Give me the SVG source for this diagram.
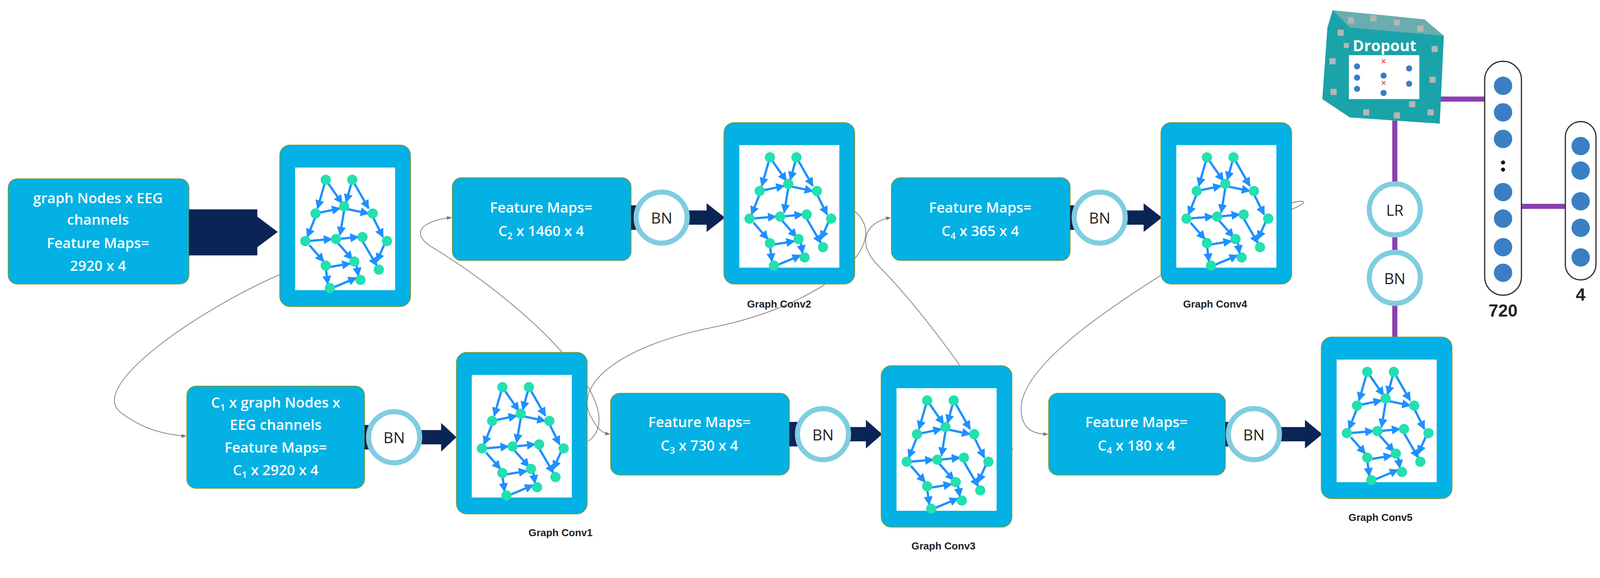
<svg xmlns="http://www.w3.org/2000/svg" width="4295" height="1479" viewBox="0 0 4295 1479">
<defs>
<style>
.box{fill:#03b1e4;stroke:#7a9a3a;stroke-width:0.8}
.bt{font-family:"Open Sans","Liberation Sans",sans-serif;font-size:14px;font-weight:600;fill:#fff;text-anchor:middle}
.lbl{font-family:"Liberation Sans",sans-serif;font-size:10px;font-weight:bold;fill:#222;text-anchor:middle}
.bn{fill:#fff;stroke:#7fcde0;stroke-width:5}
.bnt{font-family:"Open Sans","Liberation Sans",sans-serif;font-size:15px;fill:#222;text-anchor:middle}
.curve{fill:none;stroke:#8a8a8a;stroke-width:0.8}
.purple{stroke:#8a3fb0;stroke-width:5}
.navy{fill:#0b2456}
.e{stroke:#1e90ff;stroke-width:2.2;fill:none}
.n{fill:#22e0b0}
.dn{fill:#3a7fc4}
</style>
<marker id="ah" viewBox="0 0 10 10" refX="9" refY="5" markerWidth="4" markerHeight="4" orient="auto"><path d="M0,0L10,5L0,10z" fill="#1e90ff"/></marker>
<marker id="gh" viewBox="0 0 10 10" refX="9" refY="5" markerWidth="6" markerHeight="6" orient="auto"><path d="M0,1L10,5L0,9z" fill="#777"/></marker>
<g id="gc">
<rect x="0" y="0" width="128" height="158" rx="10" class="box"/>
<rect x="15" y="22" width="98" height="120" fill="#fff"/>
<g transform="translate(15,22)" marker-end="url(#ah)">
<path class="e" d="M30,12L22,40"/><path class="e" d="M30,12L46,35"/><path class="e" d="M56,12L50,34"/><path class="e" d="M56,12L72,40"/>
<path class="e" d="M20,45L44,40"/><path class="e" d="M48,40L72,45"/><path class="e" d="M20,48L12,68"/><path class="e" d="M48,42L44,66"/>
<path class="e" d="M76,48L86,68"/><path class="e" d="M12,72L36,70"/><path class="e" d="M42,70L62,68"/><path class="e" d="M88,74L80,92"/>
<path class="e" d="M14,76L28,92"/><path class="e" d="M42,74L56,90"/><path class="e" d="M66,72L80,96"/><path class="e" d="M30,98L54,94"/>
<path class="e" d="M30,98L32,114"/><path class="e" d="M36,118L60,108"/><path class="e" d="M60,94L62,106"/>
</g>
<g transform="translate(15,22)" class="n">
<ellipse cx="30" cy="12" rx="5" ry="5"/><ellipse cx="56" cy="12" rx="5" ry="5"/><ellipse cx="20" cy="45" rx="5" ry="5"/><ellipse cx="48" cy="38" rx="5" ry="5"/><ellipse cx="76" cy="45" rx="5" ry="5"/><ellipse cx="10" cy="72" rx="5" ry="5"/><ellipse cx="40" cy="70" rx="5" ry="5"/><ellipse cx="66" cy="68" rx="5" ry="5"/><ellipse cx="90" cy="72" rx="5" ry="5"/><ellipse cx="30" cy="96" rx="5" ry="5"/><ellipse cx="58" cy="92" rx="5" ry="5"/><ellipse cx="82" cy="100" rx="5" ry="5"/><ellipse cx="34" cy="118" rx="5" ry="5"/><ellipse cx="64" cy="110" rx="5" ry="5"/>
</g>
</g>
</defs>
<rect width="4295" height="1479" fill="#fff"/>
<g transform="scale(2.614)">
<g id="connectors">
<path class="curve" d="M276,268C200,300 80,380 120,405C140,420 160,425 182,427" marker-end="url(#gh)"/>
<path class="curve" d="M576,432C620,400 520,300 420,240C400,225 420,215 442,213" marker-end="url(#gh)"/>
<path class="curve" d="M835,205C880,240 800,300 700,320C600,340 560,380 580,410C585,420 590,424 597,425" marker-end="url(#gh)"/>
<path class="curve" d="M992,440C960,380 900,300 860,260C840,240 845,218 872,213" marker-end="url(#gh)"/>
<path class="curve" d="M1265,205C1300,190 1250,195 1200,230C1120,280 1000,350 1000,400C1000,420 1012,425 1026,425" marker-end="url(#gh)"/>
<line class="purple" x1="1366" y1="118" x2="1366" y2="330"/>
<line class="purple" x1="1408" y1="97" x2="1455" y2="97"/>
<line class="purple" x1="1490" y1="202" x2="1534" y2="202"/>
</g>
<g id="input">
<rect x="8" y="175" width="177" height="103" rx="9" class="box"/>
<text class="bt" x="96" y="199">graph Nodes x EEG</text>
<text class="bt" x="96" y="220" font-size="12">channels</text>
<text class="bt" x="96" y="243">Feature Maps=</text>
<text class="bt" x="96" y="265">2920 x 4</text>
<path class="navy" d="M185,205H252V212L272,227L252,242V250H185z"/>
</g>
<g id="gcA"><use href="#gc" x="274" y="142"/></g>
<g id="c1">
<rect x="183" y="378" width="174" height="100" rx="9" class="box"/>
<text class="bt" x="270" y="399">C<tspan font-size="9" dy="3">1</tspan><tspan dy="-3"> x graph Nodes x</tspan></text>
<text class="bt" x="270" y="421">EEG channels</text>
<text class="bt" x="270" y="443">Feature Maps=</text>
<text class="bt" x="270" y="465">C<tspan font-size="9" dy="3">1</tspan><tspan dy="-3"> x 2920 x 4</tspan></text>
<rect class="navy" x="357" y="416" width="20" height="24"/>
<path class="navy" d="M412,421H432V414L447,428L432,442V435H412z"/>
<circle class="bn" cx="386" cy="428" r="25"/><text class="bnt" x="386" y="434">BN</text>
</g>
<g id="gc1"><use href="#gc" x="447" y="345"/><text class="lbl" x="549" y="525">Graph Conv1</text></g>
<g id="c2">
<rect x="443" y="174" width="175" height="81" rx="9" class="box"/>
<text class="bt" x="530" y="208">Feature Maps=</text>
<text class="bt" x="530" y="231">C<tspan font-size="9" dy="3">2</tspan><tspan dy="-3"> x 1460 x 4</tspan></text>
<rect class="navy" x="618" y="201" width="20" height="24"/>
<path class="navy" d="M674,206H692V199L710,213L692,227V220H674z"/>
<circle class="bn" cx="648" cy="213" r="25"/><text class="bnt" x="648" y="219">BN</text>
</g>
<g id="gc2"><use href="#gc" x="709" y="120"/><text class="lbl" x="763" y="301">Graph Conv2</text></g>
<g id="c3">
<rect x="598" y="385" width="175" height="80" rx="9" class="box"/>
<text class="bt" x="685" y="418">Feature Maps=</text>
<text class="bt" x="685" y="441">C<tspan font-size="9" dy="3">3</tspan><tspan dy="-3"> x 730 x 4</tspan></text>
<rect class="navy" x="773" y="413" width="20" height="24"/>
<path class="navy" d="M832,418H848V411L864,425L848,439V432H832z"/>
<circle class="bn" cx="806" cy="425" r="25"/><text class="bnt" x="806" y="431">BN</text>
</g>
<g id="gc3"><use href="#gc" x="863" y="358"/><text class="lbl" x="924" y="538">Graph Conv3</text></g>
<g id="c4">
<rect x="873" y="174" width="175" height="81" rx="9" class="box"/>
<text class="bt" x="960" y="208">Feature Maps=</text>
<text class="bt" x="960" y="231">C<tspan font-size="9" dy="3">4</tspan><tspan dy="-3"> x 365 x 4</tspan></text>
<rect class="navy" x="1048" y="201" width="20" height="24"/>
<path class="navy" d="M1103,206H1120V199L1138,213L1120,227V220H1103z"/>
<circle class="bn" cx="1077" cy="213" r="25"/><text class="bnt" x="1077" y="219">BN</text>
</g>
<g id="gc4"><use href="#gc" x="1137" y="120"/><text class="lbl" x="1190" y="301">Graph Conv4</text></g>
<g id="c5">
<rect x="1027" y="385" width="173" height="80" rx="9" class="box"/>
<text class="bt" x="1113" y="418">Feature Maps=</text>
<text class="bt" x="1113" y="441">C<tspan font-size="9" dy="3">4</tspan><tspan dy="-3"> x 180 x 4</tspan></text>
<rect class="navy" x="1200" y="413" width="20" height="24"/>
<path class="navy" d="M1254,418H1278V411L1295,425L1278,439V432H1254z"/>
<circle class="bn" cx="1228" cy="425" r="25"/><text class="bnt" x="1228" y="431">BN</text>
</g>
<g id="gc5"><use href="#gc" x="1294" y="330"/><text class="lbl" x="1352" y="510">Graph Conv5</text></g>
<g id="lr"><circle class="bn" cx="1366" cy="205" r="25"/><text class="bnt" x="1366" y="211">LR</text></g>
<g id="bn6"><circle class="bn" cx="1366" cy="272" r="25"/><text class="bnt" x="1366" y="278">BN</text></g>
<g id="dropout" transform="translate(0,-13)">
<path d="M1305,23L1395,32L1414,48L1410,134L1322,128L1295,110L1300,40z" fill="#1aa3a8"/>
<path d="M1305,23L1395,32L1414,48L1322,40z" fill="#8fb0b0" opacity="0.7"/>
<g fill="#b5b5b5">
<rect x="1310" y="42" width="6" height="6"/><rect x="1320" y="30" width="6" height="6"/><rect x="1342" y="28" width="6" height="6"/><rect x="1365" y="32" width="6" height="6"/><rect x="1388" y="38" width="6" height="6"/><rect x="1402" y="58" width="6" height="6"/><rect x="1400" y="88" width="6" height="6"/><rect x="1398" y="120" width="6" height="6"/><rect x="1365" y="123" width="6" height="6"/><rect x="1335" y="120" width="6" height="6"/><rect x="1303" y="100" width="6" height="6"/><rect x="1302" y="70" width="6" height="6"/><rect x="1380" y="112" width="6" height="6"/><rect x="1316" y="55" width="5" height="5"/>
</g>
<rect x="1321" y="67" width="69" height="43" fill="#fff"/>
<g class="dn"><circle cx="1329" cy="78" r="3"/><circle cx="1329" cy="89" r="3"/><circle cx="1329" cy="100" r="3"/><circle cx="1355" cy="87" r="3"/><circle cx="1380" cy="80" r="3"/><circle cx="1380" cy="95" r="3"/><circle cx="1355" cy="104" r="3"/></g>
<text x="1355" y="76" font-family="Liberation Sans,sans-serif" font-size="9" fill="#e03020" text-anchor="middle">×</text>
<text x="1355" y="97" font-family="Liberation Sans,sans-serif" font-size="9" fill="#e03020" text-anchor="middle">×</text>
<text x="1356" y="63" font-family="Open Sans,Liberation Sans,sans-serif" font-size="15" font-weight="bold" fill="#fff" text-anchor="middle">Dropout</text>
</g>
<g id="fc720">
<rect x="1454" y="60" width="36" height="229" rx="18" fill="#fff" stroke="#333" stroke-width="1.2"/>
<g class="dn"><circle cx="1472" cy="84" r="9"/><circle cx="1472" cy="110" r="9"/><circle cx="1472" cy="136" r="9"/><circle cx="1472" cy="188" r="9"/><circle cx="1472" cy="214" r="9"/><circle cx="1472" cy="242" r="9"/><circle cx="1472" cy="267" r="9"/></g>
<circle cx="1472" cy="159" r="2" fill="#111"/><circle cx="1472" cy="166" r="2" fill="#111"/>
<text x="1472" y="310" font-family="Liberation Sans,sans-serif" font-size="17" font-weight="bold" fill="#222" text-anchor="middle">720</text>
</g>
<g id="fc4">
<rect x="1533" y="119" width="30" height="155" rx="15" fill="#fff" stroke="#333" stroke-width="1.2"/>
<g class="dn"><circle cx="1548" cy="143" r="9"/><circle cx="1548" cy="167" r="9"/><circle cx="1548" cy="197" r="9"/><circle cx="1548" cy="223" r="9"/><circle cx="1548" cy="252" r="9"/></g>
<text x="1548" y="294" font-family="Liberation Sans,sans-serif" font-size="17" font-weight="bold" fill="#222" text-anchor="middle">4</text>
</g>
</g>
</svg>
